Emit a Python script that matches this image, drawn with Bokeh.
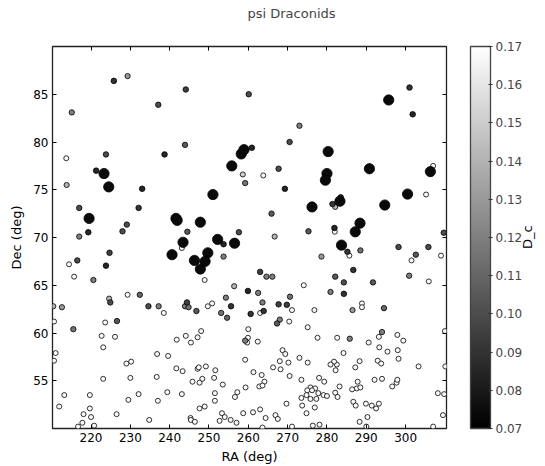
import math
import numpy as np
from bokeh.plotting import figure
from bokeh.models import (ColumnDataSource, LinearColorMapper, ColorBar, FixedTicker,
                          LinearAxis, Range1d, PrintfTickFormatter)
from bokeh.embed import file_html
from bokeh.resources import INLINE

# (RA deg, Dec deg, D_c)
meteors = [
    (215.1, 83.1, 0.12), (225.8, 86.4, 0.09), (229.3, 86.9, 0.13), (244.1, 85.5, 0.095),
    (237.1, 83.9, 0.10), (260.1, 85.0, 0.10), (213.7, 78.3, 0.168), (223.8, 78.7, 0.10),
    (238.7, 78.7, 0.085), (243.9, 79.7, 0.105), (221.3, 77.0, 0.085), (223.3, 76.7, 0.074),
    (224.5, 75.3, 0.074), (233.0, 75.1, 0.085), (255.8, 77.5, 0.074), (258.2, 78.75, 0.074),
    (258.9, 79.2, 0.074), (260.9, 79.4, 0.085), (258.6, 76.6, 0.15), (259.2, 75.7, 0.115),
    (213.8, 75.5, 0.14), (301.0, 85.7, 0.09), (295.7, 84.4, 0.074), (301.8, 82.9, 0.085),
    (273.0, 81.7, 0.12), (270.5, 80.0, 0.10), (280.3, 79.0, 0.074), (290.8, 77.2, 0.074),
    (306.3, 76.9, 0.074), (307.0, 77.5, 0.168), (280.0, 76.7, 0.074), (279.6, 76.0, 0.074),
    (267.7, 77.2, 0.10), (263.8, 76.5, 0.168), (269.3, 75.1, 0.085), (251.0, 74.5, 0.074),
    (217.0, 73.1, 0.10), (232.1, 73.1, 0.09), (219.5, 72.0, 0.074), (241.6, 72.0, 0.074),
    (241.9, 71.8, 0.074), (247.8, 71.6, 0.074), (229.1, 71.35, 0.10), (228.0, 70.65, 0.10),
    (219.3, 70.55, 0.085), (217.0, 70.1, 0.12), (244.5, 70.6, 0.105), (243.4, 69.5, 0.074),
    (243.1, 68.9, 0.168), (252.2, 69.8, 0.074), (253.7, 69.3, 0.085), (256.5, 69.4, 0.074),
    (257.6, 70.55, 0.10), (224.7, 68.4, 0.095), (216.5, 67.6, 0.10), (214.4, 67.2, 0.168),
    (223.8, 67.05, 0.085), (215.7, 65.9, 0.168), (220.6, 65.55, 0.12), (240.6, 68.2, 0.074),
    (246.3, 67.6, 0.074), (249.7, 68.4, 0.074), (249.0, 67.5, 0.074), (247.8, 66.7, 0.074),
    (253.7, 68.0, 0.12), (248.9, 65.55, 0.168), (256.4, 64.9, 0.14), (263.0, 66.4, 0.095),
    (300.5, 74.55, 0.074), (305.2, 74.5, 0.168), (276.2, 73.2, 0.074), (281.4, 73.5, 0.09),
    (283.5, 74.2, 0.085), (283.3, 73.8, 0.074), (282.1, 73.2, 0.14), (294.7, 73.4, 0.074),
    (265.9, 72.5, 0.105), (288.4, 71.5, 0.074), (287.2, 70.6, 0.074), (281.9, 71.0, 0.085),
    (282.0, 70.6, 0.168), (275.3, 70.65, 0.105), (266.7, 70.1, 0.14), (309.7, 70.5, 0.10),
    (283.7, 69.2, 0.074), (285.2, 68.5, 0.09), (285.7, 68.1, 0.168), (288.5, 68.65, 0.115),
    (278.6, 68.0, 0.13), (298.2, 69.0, 0.10), (302.6, 68.2, 0.105), (301.5, 67.6, 0.168),
    (305.8, 69.0, 0.10), (309.0, 68.1, 0.168), (286.7, 66.6, 0.09), (264.6, 65.9, 0.12),
    (266.1, 65.9, 0.12), (282.1, 65.9, 0.105), (284.3, 65.3, 0.10), (291.7, 65.3, 0.105),
    (300.9, 66.0, 0.12), (305.9, 65.4, 0.168), (274.1, 65.0, 0.168),
    (259.9, 64.4, 0.085), (262.5, 64.2, 0.12), (254.3, 63.7, 0.12), (255.6, 62.8, 0.09),
    (229.3, 64.0, 0.168), (232.4, 64.0, 0.11), (224.6, 63.6, 0.14), (224.9, 63.2, 0.10),
    (234.6, 62.8, 0.10), (237.2, 62.8, 0.12), (210.4, 62.8, 0.14), (212.6, 62.7, 0.13),
    (244.4, 63.2, 0.095), (243.9, 62.8, 0.12), (244.8, 62.7, 0.115), (246.8, 62.3, 0.105),
    (249.7, 62.8, 0.168), (250.8, 63.1, 0.168), (253.1, 62.1, 0.115), (254.6, 61.6, 0.11),
    (260.6, 62.0, 0.09), (263.6, 63.2, 0.12), (263.9, 62.3, 0.09), (263.0, 62.1, 0.168),
    (267.7, 63.0, 0.095), (269.8, 62.95, 0.095), (270.6, 63.8, 0.115), (271.1, 62.4, 0.168),
    (268.0, 61.4, 0.12), (267.3, 61.0, 0.105), (270.4, 61.2, 0.168), (276.8, 62.4, 0.168),
    (280.9, 64.3, 0.12), (284.3, 64.1, 0.09), (286.5, 62.4, 0.13), (288.9, 63.1, 0.168),
    (288.9, 62.7, 0.168), (294.5, 62.6, 0.11), (238.5, 62.1, 0.168), (226.6, 61.25, 0.105),
    (223.6, 61.1, 0.168), (210.6, 61.2, 0.168), (215.5, 60.4, 0.115), (275.1, 60.6, 0.168),
    (260.0, 60.4, 0.168), (248.0, 60.2, 0.168), (294.0, 60.1, 0.12), (310.0, 60.2, 0.168),
    (222.7, 59.7, 0.168), (226.1, 59.6, 0.168), (223.1, 58.5, 0.168), (211.0, 57.9, 0.168),
    (210.6, 57.1, 0.168), (229.0, 56.8, 0.168), (230.2, 57.0, 0.168), (223.1, 55.2, 0.168),
    (230.0, 55.3, 0.168), (213.2, 53.5, 0.168), (211.9, 52.3, 0.168), (219.7, 53.5, 0.168),
    (219.7, 52.1, 0.168), (218.1, 51.5, 0.168), (220.0, 51.2, 0.168), (217.8, 50.6, 0.168),
    (216.7, 50.2, 0.168), (220.8, 50.3, 0.168), (229.5, 53.0, 0.168), (226.5, 51.5, 0.168),
    (232.1, 53.6, 0.168), (234.8, 50.9, 0.168), (236.8, 57.8, 0.168), (239.6, 57.6, 0.168),
    (236.7, 55.4, 0.168), (237.0, 52.9, 0.168), (239.4, 53.8, 0.168), (241.7, 56.3, 0.168),
    (243.3, 56.0, 0.168), (241.8, 59.3, 0.168), (244.1, 59.7, 0.168), (245.4, 59.0, 0.168),
    (247.1, 59.55, 0.168), (243.1, 53.6, 0.168), (245.3, 51.1, 0.168), (245.4, 50.9, 0.168),
    (246.4, 50.7, 0.168), (245.8, 54.9, 0.168), (247.1, 56.25, 0.168), (247.4, 56.4, 0.168),
    (247.6, 54.8, 0.168), (248.3, 55.2, 0.168), (249.2, 56.5, 0.168), (247.6, 52.1, 0.168),
    (248.9, 52.3, 0.168), (251.3, 55.3, 0.168), (251.6, 56.1, 0.168), (251.5, 53.7, 0.168),
    (251.5, 52.9, 0.168), (253.5, 54.6, 0.168), (253.3, 51.6, 0.168), (254.0, 51.2, 0.168),
    (252.7, 50.8, 0.168), (255.5, 50.9, 0.168), (257.0, 50.6, 0.168), (256.6, 53.3, 0.168),
    (257.2, 53.8, 0.168), (258.7, 51.6, 0.168), (259.3, 54.3, 0.168), (259.2, 57.2, 0.168),
    (259.2, 59.2, 0.12), (259.7, 59.0, 0.168), (261.3, 55.9, 0.168), (262.8, 54.4, 0.168),
    (261.2, 51.7, 0.168), (263.0, 52.0, 0.168), (262.4, 59.1, 0.168), (259.9, 59.5, 0.168),
    (277.6, 59.5, 0.168), (282.6, 59.5, 0.168), (285.8, 59.4, 0.12), (290.6, 59.0, 0.168),
    (293.2, 59.6, 0.168), (297.9, 59.8, 0.168), (299.4, 59.2, 0.168), (293.3, 58.5, 0.168),
    (295.4, 58.05, 0.168), (298.0, 58.2, 0.168), (298.2, 57.3, 0.168), (292.9, 57.1, 0.168),
    (293.8, 56.8, 0.168), (284.2, 57.9, 0.168), (288.3, 57.05, 0.168), (287.2, 56.4, 0.168),
    (282.5, 56.7, 0.168), (281.8, 57.0, 0.168), (280.9, 56.7, 0.168), (282.2, 56.1, 0.168),
    (273.0, 57.4, 0.168), (275.1, 56.9, 0.168), (268.7, 58.2, 0.168), (269.4, 57.8, 0.168),
    (268.0, 57.05, 0.168), (270.2, 56.9, 0.168), (266.3, 56.4, 0.168), (268.2, 56.2, 0.168),
    (263.4, 55.6, 0.168), (264.1, 54.9, 0.168), (263.6, 54.5, 0.168), (270.5, 55.5, 0.168),
    (273.5, 55.1, 0.168), (278.0, 55.3, 0.168), (279.3, 54.9, 0.168), (283.2, 54.4, 0.168),
    (275.8, 54.3, 0.168), (277.0, 54.2, 0.168), (275.0, 54.0, 0.168), (276.2, 54.0, 0.168),
    (274.8, 53.5, 0.168), (275.8, 53.1, 0.168), (273.5, 53.2, 0.168), (277.3, 53.1, 0.168),
    (277.8, 53.7, 0.168), (279.1, 53.5, 0.168), (280.0, 53.4, 0.168), (282.1, 53.75, 0.168),
    (282.7, 53.3, 0.168), (286.4, 54.1, 0.168), (287.8, 54.9, 0.168), (287.6, 54.2, 0.168),
    (288.5, 54.3, 0.168), (292.1, 55.1, 0.168), (294.0, 55.2, 0.168), (296.6, 54.4, 0.168),
    (297.7, 54.8, 0.168), (297.9, 55.1, 0.168), (303.3, 56.5, 0.168), (310.1, 56.5, 0.168),
    (308.2, 53.7, 0.168), (309.8, 53.6, 0.168), (309.5, 51.4, 0.168), (307.0, 50.2, 0.168),
    (286.7, 52.8, 0.168), (287.3, 52.4, 0.168), (289.9, 52.6, 0.168), (291.4, 52.4, 0.168),
    (292.5, 52.1, 0.168), (293.2, 52.6, 0.168), (290.3, 51.2, 0.168), (288.3, 50.7, 0.168),
    (290.0, 50.2, 0.168), (269.7, 52.6, 0.168), (273.7, 52.4, 0.168), (276.9, 52.2, 0.168),
    (274.8, 51.6, 0.168), (266.9, 51.4, 0.168), (267.5, 51.0, 0.168), (264.4, 51.1, 0.168),
    (263.6, 50.1, 0.168), (271.1, 50.2, 0.168), (276.4, 50.3, 0.168), (278.1, 50.4, 0.168),
]

ra = [m[0] for m in meteors]
dec = [m[1] for m in meteors]
dc = [m[2] for m in meteors]

x_ticks = [220, 230, 240, 250, 260, 270, 280, 290, 300]
y_ticks = [55, 60, 65, 70, 75, 80, 85]
cb_ticks = [0.07, 0.08, 0.09, 0.10, 0.11, 0.12, 0.13, 0.14, 0.15, 0.16, 0.17]

# draw order: faint first, darkest (best matches) on top
order = np.argsort(-np.array(dc), kind="stable")
dc_arr = np.array(dc)[order]
size = np.interp(dc_arr, [0.07, 0.079, 0.081, 0.17], [10.5, 10.0, 5.6, 5.0])
src = ColumnDataSource(dict(ra=np.array(ra)[order], dec=np.array(dec)[order], dc=dc_arr, size=size))

palette = ["#%02x%02x%02x" % (i, i, i) for i in range(256)]
mapper = LinearColorMapper(palette=palette, low=0.07, high=0.17)

FONT = "DejaVu Sans"

p = figure(width=545, height=466, x_range=Range1d(210.2, 310.4), y_range=Range1d(50, 90),
           output_backend="svg", toolbar_location=None, title="psi Draconids",
           min_border_left=52, min_border_right=98, min_border_top=46, min_border_bottom=37)
p.title.align = "left"
p.title.offset = 195
p.title.text_font = FONT
p.title.text_font_size = "13px"
p.title.text_font_style = "normal"
p.title.standoff = 0
p.grid.visible = False
p.outline_line_color = "#222222"
p.outline_line_width = 1.3
p.background_fill_color = "white"

p.scatter("ra", "dec", source=src, size="size", marker="circle",
          fill_color={"field": "dc", "transform": mapper},
          line_color="black", line_width=0.8)

p.xaxis.ticker = FixedTicker(ticks=x_ticks)
p.yaxis.ticker = FixedTicker(ticks=y_ticks)
p.xaxis.axis_label = "RA (deg)"
p.yaxis.axis_label = "Dec (deg)"
for ax in [p.xaxis[0], p.yaxis[0]]:
    ax.major_tick_in = 4
    ax.major_tick_out = 0
    ax.minor_tick_line_color = None
    ax.axis_line_color = None
    ax.major_tick_line_color = "black"
    ax.major_label_text_font = FONT
    ax.major_label_text_font_size = "12px"
    ax.major_label_text_color = "black"
    ax.major_label_standoff = 4
    ax.axis_label_text_font = FONT
    ax.axis_label_text_font_size = "13px"
    ax.axis_label_text_font_style = "normal"
    ax.axis_label_text_color = "black"
p.xaxis.axis_label_standoff = 4
p.yaxis.axis_label_standoff = 6

top_ax = LinearAxis(ticker=FixedTicker(ticks=x_ticks), major_label_text_color=None,
                    major_label_text_font_size="1px",
                    major_tick_in=4, major_tick_out=0, minor_tick_line_color=None,
                    axis_line_color=None, major_label_standoff=0)
p.add_layout(top_ax, "above")
# invisible spacer between the top ticks and the title
spacer_ax = LinearAxis(ticker=FixedTicker(ticks=x_ticks), major_label_text_color=None,
                       major_label_text_font_size="1px", major_tick_in=0, major_tick_out=26,
                       major_tick_line_color=None, minor_tick_line_color=None,
                       axis_line_color=None, major_label_standoff=0)
p.add_layout(spacer_ax, "above")

right_ax = LinearAxis(ticker=FixedTicker(ticks=y_ticks), major_label_text_color=None,
                      major_label_text_font_size="1px",
                      major_tick_in=4, major_tick_out=0, minor_tick_line_color=None,
                      axis_line_color=None, major_label_standoff=0)
p.add_layout(right_ax, "right")

cb = ColorBar(color_mapper=mapper, width=20, ticker=FixedTicker(ticks=cb_ticks),
              formatter=PrintfTickFormatter(format="%.2f"),
              major_label_text_font=FONT, major_label_text_font_size="12px",
              major_tick_in=2, major_tick_out=2, major_tick_line_color="#333333",
              minor_tick_line_color=None, bar_line_color="#444444", bar_line_width=1.3,
              padding=0, margin=0, label_standoff=3, location=(24, 0),
              background_fill_alpha=0)
p.add_layout(cb, "right")

# colour-bar label "D_c", rotated to read bottom-to-top, centred on the bar
label_pos = 68.8
label_ax = LinearAxis(ticker=FixedTicker(ticks=[label_pos]), major_label_overrides={label_pos: "D_c"},
                      major_label_orientation=math.pi / 2,
                      major_label_text_font=FONT, major_label_text_font_size="13px",
                      major_label_text_color="black", major_label_standoff=2,
                      major_tick_in=0, major_tick_out=0,
                      major_tick_line_color=None, minor_tick_line_color=None,
                      axis_line_color=None)
p.add_layout(label_ax, "right")

open("out.html", "w").write(file_html(p, INLINE))
